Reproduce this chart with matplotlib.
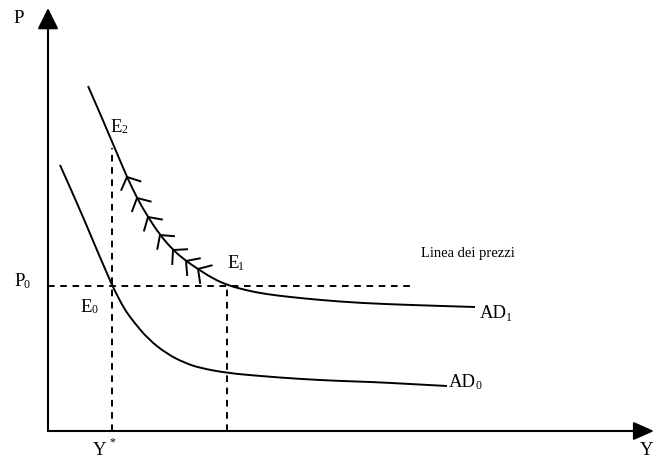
import numpy as np
import matplotlib
matplotlib.use('Agg')
import matplotlib.pyplot as plt
from matplotlib.path import Path
from matplotlib.patches import PathPatch

plt.rcParams['font.family'] = ['Liberation Serif', 'DejaVu Serif']

# curves (output Y, price level P) -- arbitrary units, origin at the axes corner
ad1_y = [40, 51, 62, 71, 79, 89, 100, 112, 125, 138, 150, 164, 179, 197, 217, 242, 272, 312, 362, 427]
ad1_p = [345, 320, 294, 273, 254, 233, 214, 196, 181, 170, 162, 153, 146, 141, 137, 134, 131, 128, 126, 124]
ad0_y = [12, 25, 38, 51, 58, 64, 70, 77, 85, 100, 119, 137, 152, 179, 212, 252, 292, 325, 362, 399]
ad0_p = [266, 237, 207, 176, 160, 146, 134, 121, 110, 92, 77, 68, 63, 58, 55, 52, 50, 49, 47, 45]

# equilibrium values
p0 = 145
y_star = 64
y_e1 = 179
p_e2 = 283
price_line_end = 364

# chevrons along AD1 (from E1 back up to E2)
chev_y = [79, 89, 100, 112, 125, 138, 150]

fig = plt.figure(figsize=(6.57, 4.59), dpi=100)
ax = fig.add_axes([0, 0, 1, 1])
ax.set_xlim(-48, 609)
ax.set_ylim(-28, 431)
ax.axis('off')


def smooth_curve(xs, ys):
  # quadratic bezier through the midpoints, data points as control points
  pts = list(zip(xs, ys))
  verts = [pts[0]]
  codes = [Path.MOVETO]
  for i in range(1, len(pts) - 1):
    mid = ((pts[i][0] + pts[i + 1][0]) / 2, (pts[i][1] + pts[i + 1][1]) / 2)
    verts += [pts[i], mid]
    codes += [Path.CURVE3, Path.CURVE3]
  verts.append(pts[-1])
  codes.append(Path.LINETO)
  return PathPatch(Path(verts, codes), fill=False, lw=1.4, edgecolor='black',
                   capstyle='butt')


# axes with arrows
arr = dict(arrowstyle='-|>,head_length=12.9,head_width=6.4', mutation_scale=1,
           lw=1.5, color='black', shrinkA=0, shrinkB=0)
ax.annotate('', xy=(0, 423), xytext=(0, 0), arrowprops=arr)
arr_x = dict(arr, arrowstyle='-|>,head_length=12.6,head_width=5.6')
ax.annotate('', xy=(606, 0), xytext=(0, 0), arrowprops=arr_x)

# dashed guides
dash = dict(color='black', lw=1.4, dashes=(3.4, 2.9))
ax.plot([0, price_line_end], [p0, p0], **dash)
ax.plot([y_star, y_star], [0, p_e2], **dash)
ax.plot([y_e1, y_e1], [0, p0], **dash)

# curves
ax.add_patch(smooth_curve(ad1_y, ad1_p))
ax.add_patch(smooth_curve(ad0_y, ad0_p))

# chevrons pointing back up AD1
y1 = np.array(ad1_y, float)
p1 = np.array(ad1_p, float)
for cy in chev_y:
  cp = np.interp(cy, y1, p1)
  i = np.searchsorted(y1, cy)
  i = min(max(i, 1), len(y1) - 2)
  d = np.array([y1[i + 1] - y1[i - 1], p1[i + 1] - p1[i - 1]])
  d = d / np.hypot(*d)
  for ang in (48, -48):
    a = np.radians(ang)
    r = np.array([d[0] * np.cos(a) - d[1] * np.sin(a), d[0] * np.sin(a) + d[1] * np.cos(a)])
    ax.plot([cy, cy + 15 * r[0]], [cp, cp + 15 * r[1]], color='black', lw=1.4,
            solid_capstyle='butt')

big = 13.5
small = 8.5
def label(x, y, main, sub=None, sx=0, sy=0):
  ax.text(x, y, main, fontsize=big, ha='left', va='baseline')
  if sub:
    ax.text(x + sx, y + sy, sub, fontsize=small, ha='left', va='baseline')

label(-35, 408, 'P')
label(-34, 145, 'P', '0', 10, -2)
label(32, 119, 'E', '0', 11, -1)
label(62, 299, 'E', '2', 12, -1)
label(179, 163, 'E', '1', 11, -2)
label(432, 113, 'AD', '1', 26, -3)
label(401, 44, 'AD', '0', 26, -2)
label(45, -24, 'Y', '*', 16, 10)
label(592, -24, 'Y')
ax.text(373, 174, 'Linea dei prezzi', fontsize=10.5, ha='left', va='baseline')

fig.savefig('out.png', dpi=100)
